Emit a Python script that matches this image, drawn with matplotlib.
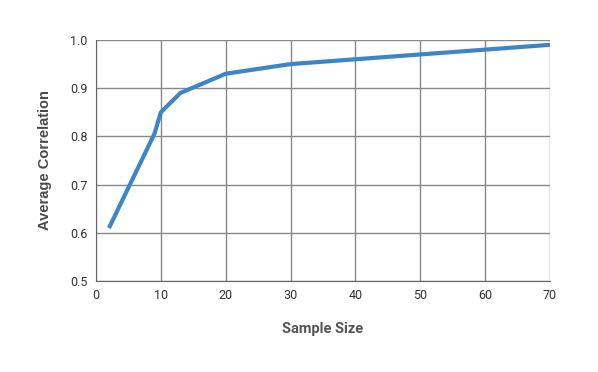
import matplotlib
matplotlib.use("Agg")
import matplotlib.pyplot as plt

plt.rcParams['font.family'] = ['Roboto', 'DejaVu Sans']

sample_size = [2, 9, 10, 13, 20, 30, 40, 50, 60, 70]
avg_corr = [0.61, 0.805, 0.85, 0.89, 0.93, 0.95, 0.96, 0.97, 0.98, 0.99]
x_ticks = [0, 10, 20, 30, 40, 50, 60, 70]
y_ticks = [0.5, 0.6, 0.7, 0.8, 0.9, 1.0]

fig = plt.figure(figsize=(5.98, 3.72), dpi=100)
ax = fig.add_axes([0.1605, 0.2446, 0.7592, 0.6479])
ax.plot(sample_size, avg_corr, color='#3d85c6', linewidth=3, solid_capstyle='butt', zorder=3)
ax.set_xlim(0, 70)
ax.set_ylim(0.5, 1.0)
ax.set_xticks(x_ticks)
ax.set_yticks(y_ticks)
ax.set_yticklabels([f"{v:.1f}" for v in y_ticks])
ax.grid(True, color='#888888', linewidth=1)
for s in ['top', 'right']:
    ax.spines[s].set_visible(False)
for s in ['left', 'bottom']:
    ax.spines[s].set_color('#666666')
ax.tick_params(length=0, labelsize=9, colors='#333333', pad=6)
ax.set_xlabel('Sample Size', fontsize=10.5, fontweight='bold', color='#555555', labelpad=14)
ax.set_ylabel('Average Correlation', fontsize=10.5, fontweight='bold', color='#4a4a4a',
              labelpad=13, family=['Liberation Sans', 'DejaVu Sans'])
fig.savefig('out.png', dpi=100)
